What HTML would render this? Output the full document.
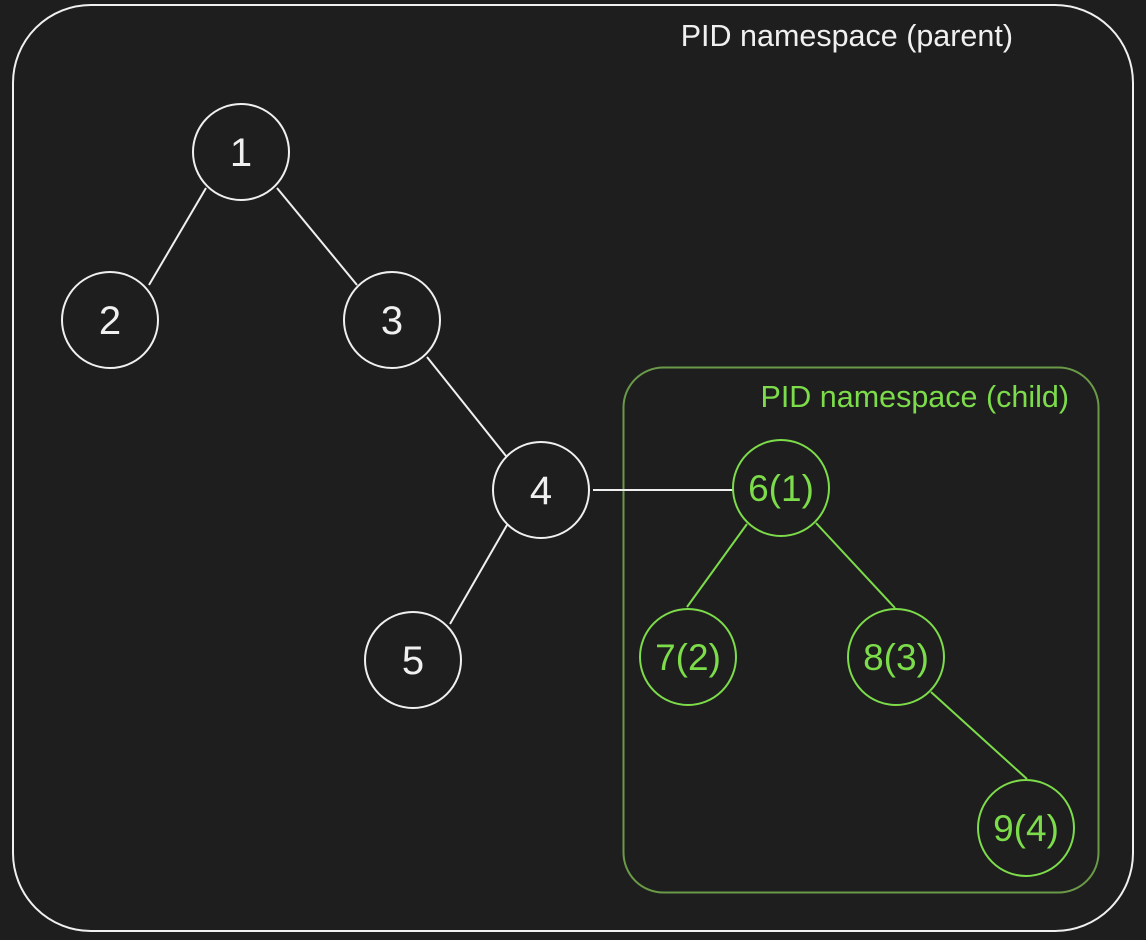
<!DOCTYPE html>
<html><head><style>body{margin:0;background:#1e1e1e}svg{display:block}</style></head>
<body>
<svg width="1146" height="940" viewBox="0 0 1146 940" xmlns="http://www.w3.org/2000/svg" font-family="Liberation Sans, sans-serif">
<rect width="1146" height="940" fill="#1e1e1e"/>
<rect x="13" y="5" width="1120" height="926" rx="78" fill="none" stroke="#f0f0f0" stroke-width="2"/>
<text x="1013" y="46" font-size="30.5" fill="#f0f0f0" text-anchor="end">PID namespace (parent)</text>
<rect x="623.5" y="367.5" width="475" height="525" rx="40" fill="none" stroke="#6a9a48" stroke-width="2"/>
<text x="1069" y="407" font-size="30.5" fill="#7cdc4a" text-anchor="end">PID namespace (child)</text>
<g stroke="#f0f0f0" stroke-width="2" fill="none">
<line x1="206" y1="188" x2="149" y2="285"/>
<line x1="277" y1="188" x2="357" y2="285"/>
<line x1="427" y1="357" x2="506" y2="456"/>
<line x1="507" y1="525" x2="450" y2="624"/>
<line x1="593" y1="490" x2="733" y2="490"/>
<circle cx="241" cy="152" r="48"/>
<circle cx="110" cy="320" r="48"/>
<circle cx="392" cy="320" r="48"/>
<circle cx="541" cy="490" r="48"/>
<circle cx="413" cy="660" r="48"/>
</g>
<g stroke="#7cdc4a" stroke-width="2" fill="none">
<line x1="747" y1="524" x2="687" y2="607"/>
<line x1="816" y1="523" x2="895" y2="608"/>
<line x1="931" y1="692" x2="1027" y2="779"/>
<circle cx="781" cy="488" r="48"/>
<circle cx="688" cy="657" r="48"/>
<circle cx="896" cy="657" r="48"/>
<circle cx="1026" cy="828" r="48"/>
</g>
<g font-size="40" fill="#f0f0f0" text-anchor="middle">
<text x="241" y="166">1</text>
<text x="110" y="334">2</text>
<text x="392" y="334">3</text>
<text x="541" y="504">4</text>
<text x="413" y="674">5</text>
</g>
<g font-size="37" fill="#7cdc4a" text-anchor="middle">
<text x="781" y="501">6(1)</text>
<text x="688" y="670">7(2)</text>
<text x="896" y="670">8(3)</text>
<text x="1026" y="841">9(4)</text>
</g>
</svg>
</body></html>
